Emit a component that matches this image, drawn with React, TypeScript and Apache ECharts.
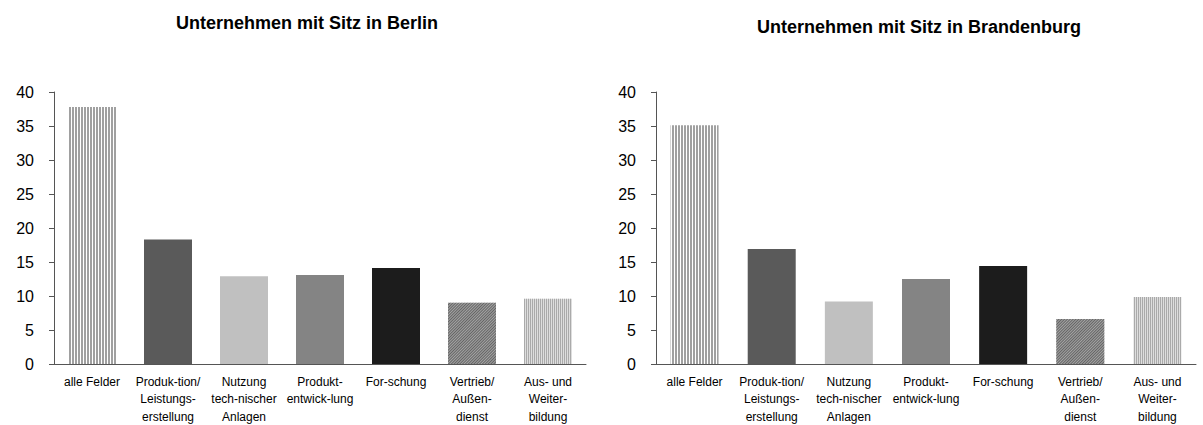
import React, { useEffect, useRef } from "react";
import * as echarts from "echarts";

const categories = [
  "alle Felder",
  "Produk-tion/\nLeistungs-\nerstellung",
  "Nutzung\ntech-nischer\nAnlagen",
  "Produkt-\nentwick-lung",
  "For-schung",
  "Vertrieb/\nAußen-\ndienst",
  "Aus- und\nWeiter-\nbildung",
];
const berlinValues = [37.8, 18.3, 12.9, 13.1, 14.1, 9.0, 9.6];
const brandenburgValues = [35.1, 16.9, 9.2, 12.5, 14.4, 6.6, 9.85];
const titleBerlin = "Unternehmen mit Sitz in Berlin";
const titleBrandenburg = "Unternehmen mit Sitz in Brandenburg";

const FONT = "'Liberation Sans', Arial, Helvetica, sans-serif";

const barStyles: any[] = [
  {
    color: "#ffffff",
    decal: {
      symbol: "rect",
      symbolSize: 1,
      symbolKeepAspect: false,
      dashArrayX: [2, 1],
      dashArrayY: [1, 0],
      color: "#a0a0a0",
    },
  },
  { color: "#5a5a5a" },
  { color: "#c0c0c0" },
  { color: "#848484" },
  { color: "#1c1c1c" },
  {
    color: "#a4a4a4",
    decal: {
      symbol: "rect",
      symbolSize: 1,
      symbolKeepAspect: false,
      dashArrayX: [1, 1],
      dashArrayY: [1, 0],
      rotation: Math.PI / 4,
      color: "#646464",
    },
  },
  {
    color: "#dedede",
    decal: {
      symbol: "rect",
      symbolSize: 1,
      symbolKeepAspect: false,
      dashArrayX: [1, 1],
      dashArrayY: [1, 0],
      color: "#aaaaaa",
    },
  },
];

const axisColor = "#555555";

function makeXAxis(gridIndex: number) {
  return {
    type: "category",
    gridIndex,
    data: categories,
    axisLine: { show: true, lineStyle: { color: axisColor, width: 1 } },
    axisTick: { show: false },
    axisLabel: {
      interval: 0,
      color: "#000",
      fontFamily: FONT,
      fontSize: 12,
      lineHeight: 17.5,
      margin: 9,
    },
    splitLine: { show: false },
  };
}

function makeYAxis(gridIndex: number) {
  return {
    type: "value",
    gridIndex,
    min: 0,
    max: 40,
    interval: 5,
    axisLine: { show: true, lineStyle: { color: axisColor, width: 1 } },
    axisTick: { show: true, length: 5, lineStyle: { color: axisColor } },
    axisLabel: {
      color: "#000",
      fontFamily: FONT,
      fontSize: 16,
      margin: 20,
    },
    splitLine: { show: false },
  };
}

function makeSeries(values: number[], idx: number) {
  return {
    type: "bar",
    xAxisIndex: idx,
    yAxisIndex: idx,
    barWidth: 48,
    data: values.map((v, i) => ({ value: v, itemStyle: barStyles[i] })),
  };
}

export default function App() {
  const ref = useRef<HTMLDivElement>(null);
  useEffect(() => {
    if (!ref.current) return;
    const chart = echarts.init(ref.current, undefined, { renderer: "svg" });
    chart.setOption({
      animation: false,
      backgroundColor: "#ffffff",
      grid: [
        { left: 54, top: 92, width: 532, height: 272, outerBoundsMode: "none" },
        { left: 656, top: 92, width: 540, height: 272, outerBoundsMode: "none" },
      ],
      xAxis: [makeXAxis(0), makeXAxis(1)],
      yAxis: [makeYAxis(0), makeYAxis(1)],
      series: [makeSeries(berlinValues, 0), makeSeries(brandenburgValues, 1)],
      graphic: [
        {
          type: "text",
          x: 307,
          y: 23,
          style: {
            text: titleBerlin,
            fill: "#000",
            font: `bold 18px ${FONT}`,
            align: "center",
            verticalAlign: "middle",
          },
        },
        {
          type: "text",
          x: 919,
          y: 27,
          style: {
            text: titleBrandenburg,
            fill: "#000",
            font: `bold 18px ${FONT}`,
            align: "center",
            verticalAlign: "middle",
          },
        },
      ],
    });
    return () => chart.dispose();
  }, []);
  return (
    <div
      ref={ref}
      style={{ position: "fixed", left: 0, top: 0, width: 1203, height: 425 }}
    />
  );
}
